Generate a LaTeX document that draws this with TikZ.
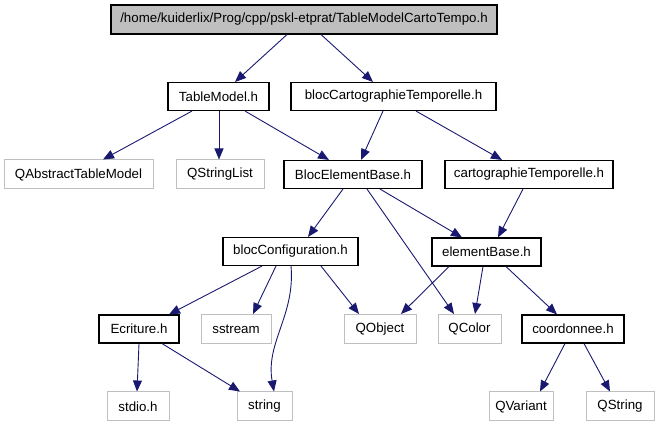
\documentclass[tikz,border=0pt]{standalone}
\usepackage{fontspec}
\setmainfont{Liberation Sans}
\usetikzlibrary{arrows.meta}
\definecolor{edgeblue}{HTML}{191970}
\definecolor{extgray}{HTML}{BFBFBF}

\begin{document}
\begin{tikzpicture}[x=1pt, y=-1pt, font=\fontsize{13.3}{15}\selectfont,
  file/.style={draw=black, line width=1.1pt, minimum height=28pt, inner sep=0pt},
  ext/.style={draw=extgray, line width=1pt, minimum height=29pt, inner sep=0pt},
  every edge/.style={draw=edgeblue, line width=0.9pt, -{Triangle[length=11pt,width=9pt]}}]
\useasboundingbox (0,0) rectangle (659,427);
% files of the project
\node (top) [file, fill=extgray, minimum width=386pt, minimum height=29pt] at (304,19.5) {/home/kuiderlix/Prog/cpp/pskl-etprat/TableModelCartoTempo.h};
\node (tm)  [file, minimum width=101pt] at (218.5,96.5) {TableModel.h};
\node (bct) [file, minimum width=205pt] at (393.5,96.5) {blocCartographieTemporelle.h};
\node (beb) [file, minimum width=138pt] at (353,174.5) {BlocElementBase.h};
\node (ct)  [file, minimum width=168pt] at (529,174.5) {cartographieTemporelle.h};
\node (bc)  [file, minimum width=135pt] at (290.5,251.5) {blocConfiguration.h};
\node (eb)  [file, minimum width=109pt] at (486.5,252) {elementBase.h};
\node (ecr) [file, minimum width=80pt] at (139,329) {Ecriture.h};
\node (coo) [file, minimum width=102pt] at (573,329) {coordonnee.h};
% external headers
\node (qatm) [ext, minimum width=149pt] at (78.5,174.5) {QAbstractTableModel};
\node (qsl)  [ext, minimum width=88pt] at (220,174.5) {QStringList};
\node (sst)  [ext, minimum width=70pt] at (236,329) {sstream};
\node (qob)  [ext, minimum width=72pt] at (380,329) {QObject};
\node (qco)  [ext, minimum width=63pt] at (469.5,329) {QColor};
\node (std)  [ext, minimum width=62pt] at (138,406.5) {stdio.h};
\node (str)  [ext, minimum width=55pt] at (264.5,406.5) {string};
\node (qva)  [ext, minimum width=64pt] at (521,406.5) {QVariant};
\node (qst)  [ext, minimum width=68pt] at (620,406.5) {QString};
\path
     ([xshift=-17pt]top.south) edge ([xshift=16.5pt]tm.north)
     ([xshift=17pt]top.south) edge ([xshift=-20.5pt]bct.north)
     ([xshift=-26.5pt]tm.south) edge ([xshift=24.5pt]qatm.north)
     ([xshift=0.5pt]tm.south) edge ([xshift=-1pt]qsl.north)
     ([xshift=26.5pt]tm.south) edge ([xshift=-24pt]beb.north)
     ([xshift=-10.5pt]bct.south) edge ([xshift=8pt]beb.north)
     ([xshift=22.5pt]bct.south) edge ([xshift=-27pt]ct.north)
     ([xshift=-10pt]beb.south) edge ([xshift=17.5pt]bc.north)
     ([xshift=14pt]beb.south) edge ([xshift=-15.5pt]qco.north)
     ([xshift=27pt]beb.south) edge ([xshift=-24.5pt]eb.north)
     ([xshift=-6pt]ct.south) edge ([xshift=11.5pt]eb.north)
     ([xshift=-28.5pt]bc.south) edge ([xshift=30pt]ecr.north)
     ([xshift=-14.5pt]bc.south) edge ([xshift=17pt]sst.north)
     ([xshift=0.5pt]bc.south) edge[out=-85, in=100] ([xshift=9.5pt]str.north)
     ([xshift=30.5pt]bc.south) edge ([xshift=-21pt]qob.north)
     ([xshift=-37.5pt]eb.south) edge ([xshift=21pt]qob.north)
     ([xshift=-3.5pt]eb.south) edge ([xshift=5.5pt]qco.north)
     ([xshift=19.5pt]eb.south) edge ([xshift=-16pt]coo.north)
     (ecr.south) edge ([xshift=-1pt]std.north)
     ([xshift=23pt]ecr.south) edge ([xshift=-24.5pt]str.north)
     ([xshift=-8pt]coo.south) edge ([xshift=19pt]qva.north)
     ([xshift=11pt]coo.south) edge ([xshift=-10pt]qst.north);
\end{tikzpicture}
\end{document}
